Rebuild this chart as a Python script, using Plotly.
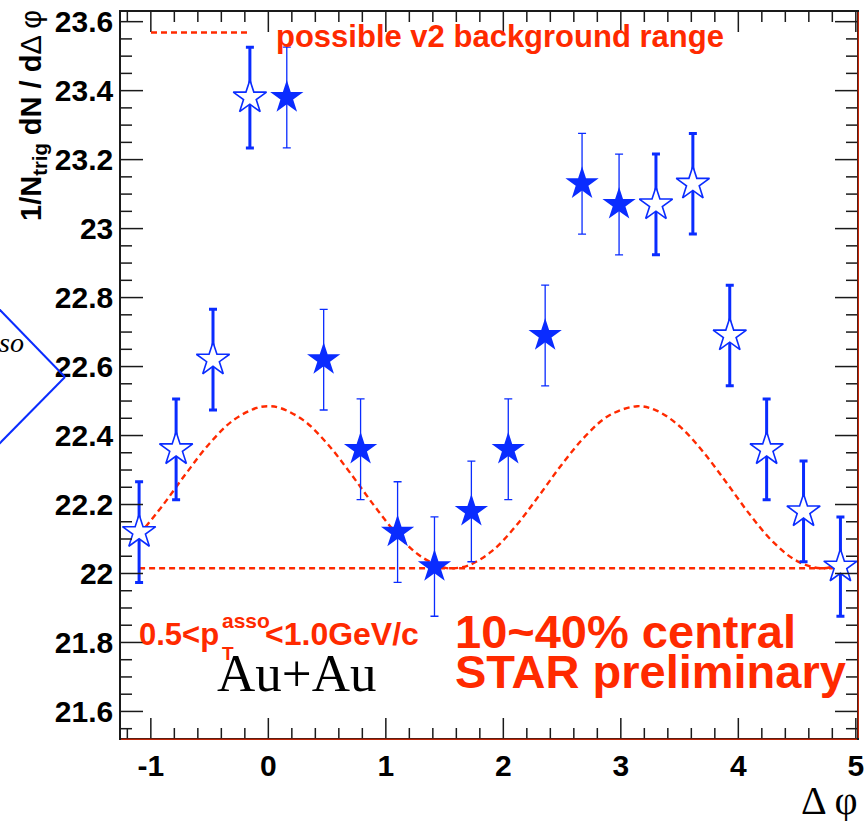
import plotly.graph_objects as go

# ---- data ----
x_filled = [0.157, 0.471, 0.785, 1.100, 1.414, 1.728, 2.042, 2.356, 2.670, 2.985]
y_filled = [23.38, 22.62, 22.36, 22.12, 22.02, 22.18, 22.36, 22.69, 23.13, 23.07]
e_filled = [0.146, 0.146, 0.146, 0.146, 0.144, 0.146, 0.146, 0.146, 0.146, 0.146]

x_open = [-1.100, -0.785, -0.471, -0.157, 3.299, 3.613, 3.927, 4.241, 4.555, 4.869]
y_open = [22.12, 22.36, 22.62, 23.38, 23.07, 23.13, 22.69, 22.36, 22.18, 22.02]
e_open = [0.146, 0.146, 0.146, 0.146, 0.146, 0.146, 0.146, 0.146, 0.146, 0.144]

# v2 background range (upper modulated curve and flat lower line)
bg_x = [-1.1, -0.9, -0.7, -0.5, -0.3, -0.1, 0.0, 0.1, 0.3, 0.5, 0.7, 0.9, 1.1, 1.3, 1.5,
        1.57, 1.7, 1.9, 2.1, 2.3, 2.5, 2.7, 2.9, 3.14, 3.3, 3.5, 3.7, 3.9, 4.1, 4.3, 4.5,
        4.71, 4.9]
bg_y = [22.112, 22.197, 22.290, 22.377, 22.444, 22.480, 22.485, 22.480, 22.444, 22.377,
        22.290, 22.197, 22.112, 22.049, 22.017, 22.015, 22.023, 22.064, 22.135, 22.224,
        22.317, 22.399, 22.458, 22.485, 22.473, 22.427, 22.353, 22.263, 22.170, 22.090,
        22.036, 22.015, 22.031]
flat_x = [-1.1, 4.9]
flat_y = [22.015, 22.015]

x_ticks = [-1, 0, 1, 2, 3, 4, 5]
x_ticklabels = ["-1", "0", "1", "2", "3", "4", "5"]
y_ticks = [21.6, 21.8, 22.0, 22.2, 22.4, 22.6, 22.8, 23.0, 23.2, 23.4, 23.6]
y_ticklabels = ["21.6", "21.8", "22", "22.2", "22.4", "22.6", "22.8", "23", "23.2", "23.4", "23.6"]
X_RANGE = [-1.254, 5.01]
Y_RANGE = [21.523, 23.628]
X_MINOR_STEP = 0.2
Y_MINOR_STEP = 0.05

BLUE = "#0a2cff"
RED = "#ff2a00"
FRAME = "#1a1a1a"

W, H = 864, 821
L, R, T, B = 121, 7, 12, 83
PW, PH = W - L - R, H - T - B


def px(xp):
    return (xp - L) / PW


def py(yp):
    return (H - B - yp) / PH


fig = go.Figure()

DASH = "6px,4px"
fig.add_trace(go.Scatter(x=bg_x, y=bg_y, mode="lines", line=dict(color=RED, width=2.4, dash=DASH, shape="spline"),
                         hoverinfo="skip", showlegend=False))
fig.add_trace(go.Scatter(x=flat_x, y=flat_y, mode="lines", line=dict(color=RED, width=2.4, dash=DASH),
                         hoverinfo="skip", showlegend=False))

fig.add_trace(go.Scatter(
    x=x_open, y=y_open, mode="markers",
    marker=dict(symbol="star", size=25, color="white", line=dict(color=BLUE, width=1.6)),
    error_y=dict(type="data", array=e_open, color=BLUE, thickness=3, width=4),
    showlegend=False))

fig.add_trace(go.Scatter(
    x=x_filled, y=y_filled, mode="markers",
    marker=dict(symbol="star", size=25, color=BLUE, line=dict(width=0)),
    error_y=dict(type="data", array=e_filled, color=BLUE, thickness=1.3, width=4),
    showlegend=False))

# ---- inside ticks on all four sides (ROOT style), drawn as line traces ----
n_xm = int(round((X_RANGE[1] - X_RANGE[0]) / X_MINOR_STEP)) + 2
x_minor = [round(-1.2 + X_MINOR_STEP * i, 3) for i in range(n_xm)]
x_minor = [v for v in x_minor if X_RANGE[0] < v < X_RANGE[1] and abs(v - round(v)) > 1e-6]
n_ym = int(round((Y_RANGE[1] - Y_RANGE[0]) / Y_MINOR_STEP)) + 2
y_minor = [round(21.55 + Y_MINOR_STEP * i, 3) for i in range(n_ym)]
y_minor = [v for v in y_minor if Y_RANGE[0] < v < Y_RANGE[1] and min(abs(v - t) for t in y_ticks) > 1e-6]

xt_x, xt_y = [], []
for vals, ln in ((x_ticks, 20), (x_minor, 10)):
    for v in vals:
        if X_RANGE[0] < v < X_RANGE[1]:
            xt_x += [v, v, None, v, v, None]
            xt_y += [0, ln, None, PH, PH - ln, None]
yt_x, yt_y = [], []
for vals, ln in ((y_ticks, 22), (y_minor, 11)):
    for v in vals:
        yt_x += [0, ln, None, PW, PW - ln, None]
        yt_y += [v, v, None, v, v, None]

fig.add_trace(go.Scatter(x=xt_x, y=xt_y, xaxis="x", yaxis="y2", mode="lines",
                         line=dict(color=FRAME, width=1.5), hoverinfo="skip", showlegend=False))
fig.add_trace(go.Scatter(x=yt_x, y=yt_y, xaxis="x2", yaxis="y", mode="lines",
                         line=dict(color=FRAME, width=1.5), hoverinfo="skip", showlegend=False))

tickfont = dict(family="Liberation Sans", size=30, color="black")

fig.update_layout(
    xaxis=dict(range=X_RANGE, tickvals=x_ticks, ticktext=["<b>%s</b>" % t for t in x_ticklabels],
               ticks="", showline=True, linecolor=FRAME, linewidth=1.5, mirror=True,
               showgrid=False, zeroline=False, tickfont=tickfont, ticklabeloverflow="allow"),
    yaxis=dict(range=Y_RANGE, tickvals=y_ticks, ticktext=["<b>%s</b>" % t for t in y_ticklabels],
               ticks="", showline=True, linecolor=FRAME, linewidth=1.5, mirror=True,
               showgrid=False, zeroline=False, tickfont=tickfont, ticklabeloverflow="allow"),
    xaxis2=dict(range=[0, PW], overlaying="x", visible=False, showgrid=False, zeroline=False),
    yaxis2=dict(range=[0, PH], overlaying="y", visible=False, showgrid=False, zeroline=False),
)

shapes = [
    # red frame edges (bottom, right)
    dict(type="line", xref="paper", yref="paper", x0=0, x1=1, y0=-0.0017, y1=-0.0017, line=dict(color=RED, width=1)),
    dict(type="line", xref="paper", yref="paper", x0=1.0017, x1=1.0017, y0=0, y1=1, line=dict(color=RED, width=1)),
    # legend sample line
    dict(type="line", xref="paper", yref="paper", x0=px(151), x1=px(251), y0=py(32.5), y1=py(32.5),
         line=dict(color=RED, width=2.4, dash=DASH)),
    # fragment of the neighbouring panel on the left
    dict(type="line", xref="paper", yref="paper", x0=px(-2), y0=py(308), x1=px(65), y1=py(377),
         line=dict(color=BLUE, width=2)),
    dict(type="line", xref="paper", yref="paper", x0=px(65), y0=py(377), x1=px(-2), y1=py(445),
         line=dict(color=BLUE, width=2)),
]

redbold = dict(family="Liberation Sans", color=RED, weight="bold")
ann = [
    dict(text="possible v2 background range", x=px(274), y=py(36), xanchor="left", yanchor="middle",
         font=dict(size=31, **redbold)),
    dict(text="10~40% central", x=px(453), y=py(631), xanchor="left", yanchor="middle",
         font=dict(size=47, **redbold)),
    dict(text="STAR preliminary", x=px(453), y=py(671), xanchor="left", yanchor="middle",
         font=dict(size=47, **redbold)),
    dict(text="0.5<p", x=px(137), y=py(634), xanchor="left", yanchor="middle", font=dict(size=31, **redbold)),
    dict(text="asso", x=px(220), y=py(620), xanchor="left", yanchor="middle", font=dict(size=21, **redbold)),
    dict(text="T", x=px(220), y=py(653), xanchor="left", yanchor="middle", font=dict(size=19, **redbold)),
    dict(text="<1.0GeV/c", x=px(263), y=py(634), xanchor="left", yanchor="middle", font=dict(size=32, **redbold)),
    dict(text="Au+Au", x=px(215), y=py(673), xanchor="left", yanchor="middle",
         font=dict(family="Liberation Serif", size=53, color="black")),
    dict(text="Δ φ", x=px(859), y=py(800), xanchor="right", yanchor="middle", borderpad=0,
         font=dict(family="Liberation Serif", size=40, color="black")),
    dict(text="<b>1/N<sub>trig</sub> dN / d</b>Δ φ", x=px(33), y=py(116), xanchor="center", yanchor="middle",
         textangle=-90, font=dict(family="Liberation Sans", size=29, color="black")),
    dict(text="<i>so</i>", x=px(-3), y=py(342), xanchor="left", yanchor="middle",
         font=dict(family="Liberation Serif", size=28, color="black")),
]
for a in ann:
    a.update(xref="paper", yref="paper", showarrow=False)

fig.update_layout(width=W, height=H, margin=dict(l=L, r=R, t=T, b=B, autoexpand=False),
                  paper_bgcolor="white", plot_bgcolor="white", shapes=shapes, annotations=ann)

fig.write_html("out.html", config={"displayModeBar": False},
               post_script="document.body.style.margin='0';document.body.style.overflow='hidden';")
